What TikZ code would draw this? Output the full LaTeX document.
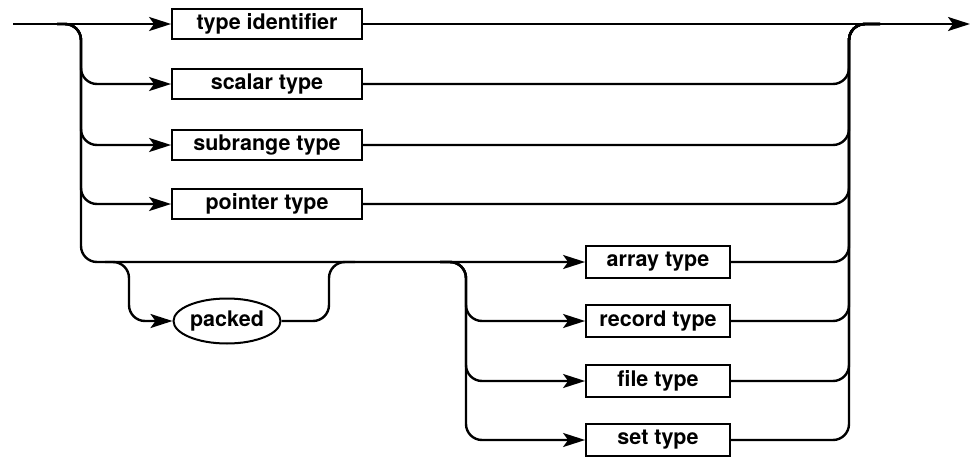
\documentclass[tikz,border=0pt]{standalone}
\usepackage{fontspec}
\setmainfont{TeX Gyre Heros}
\usetikzlibrary{arrows.meta,shapes.geometric}
\begin{document}
\begin{tikzpicture}[x=1pt,y=-1pt,
  line/.style={line width=2.4pt, rounded corners=16pt},
  flow/.style={line, -{Stealth[length=22pt,width=14pt,inset=5pt]}},
  lbl/.style={font=\fontsize{21.5}{25}\selectfont\bfseries, inner sep=0pt},
  boxa/.style={lbl, draw, line width=1.8pt, minimum width=190pt, minimum height=30pt},
  boxb/.style={lbl, draw, line width=1.8pt, minimum width=144pt, minimum height=32pt},
  oval/.style={lbl, draw, ellipse, line width=2pt, minimum width=107pt, minimum height=45pt}
]
\useasboundingbox (0,0) rectangle (978,458);

% nodes
\node[boxa] (ti) at (267,24)  {type identifier};
\node[boxa] (sc) at (267,84)  {scalar type};
\node[boxa] (sr) at (267,145) {subrange type};
\node[boxa] (pt) at (267,204) {pointer type};
\node[boxb] (ar) at (658,262) {array type};
\node[boxb] (rc) at (658,321) {record type};
\node[boxb] (fl) at (658,381) {file type};
\node[boxb] (st) at (658,440) {set type};
\node[oval] (pk) at (227,321) {packed};

% coordinates
\coordinate (start) at (13,24);
\coordinate (fin)   at (970,24);
\coordinate (L)     at (57,24);
\coordinate (R)     at (880,24);
\coordinate (P1)    at (105,262);
\coordinate (P2)    at (355,262);
\coordinate (Q)     at (440,262);

% left side
\draw[flow] (start) -- (ti.west);
\draw[flow] (L) -| (81,84)  -- (sc.west);
\draw[flow] (L) -| (81,145) -- (sr.west);
\draw[flow] (L) -| (81,204) -- (pt.west);
\draw[flow] (L) -| (81,262) -- (ar.west);

% packed bypass
\draw[flow] (P1) -| (129,321) -- (pk.west);
\draw[line] (pk.east) -| (329,262) -- (P2);

% structured types
\draw[flow] (Q) -| (466,321) -- (rc.west);
\draw[flow] (Q) -| (466,381) -- (fl.west);
\draw[flow] (Q) -| (466,440) -- (st.west);

% right side
\draw[flow] (ti.east) -- (fin);
\draw[line] (sc.east) -| (849,24) -- (R);
\draw[line] (sr.east) -| (849,24) -- (R);
\draw[line] (pt.east) -| (849,24) -- (R);
\draw[line] (ar.east) -| (849,24) -- (R);
\draw[line] (rc.east) -| (849,24) -- (R);
\draw[line] (fl.east) -| (849,24) -- (R);
\draw[line] (st.east) -| (849,24) -- (R);
\end{tikzpicture}
\end{document}
